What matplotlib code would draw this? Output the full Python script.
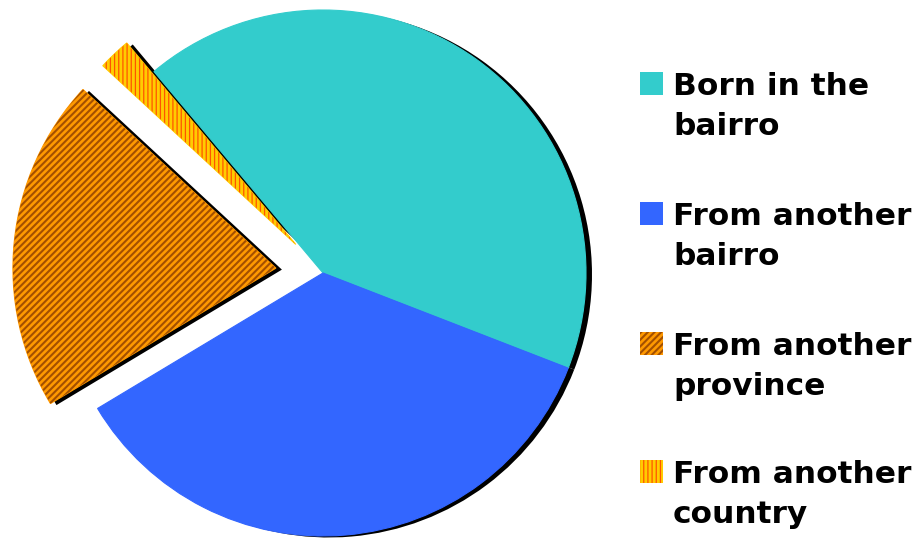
import matplotlib
matplotlib.use("Agg")
import matplotlib.pyplot as plt
from matplotlib.patches import Rectangle

labels = ["Born in the\nbairro", "From another\nbairro", "From another\nprovince", "From another\ncountry"]
values = [42.0, 35.5, 20.5, 2.0]
colors = ["#33CCCC", "#3366FF", "#FF9900", "#FFCC00"]
hatch_colors = ["#33CCCC", "#3366FF", "#A34F00", "#FF5500"]
hatches = [None, None, "/////", "||||"]
hatch_lws = [1.0, 1.0, 1.5, 0.9]
explode = [0.0, 0.0, 0.18, 0.15]

plt.rcParams["hatch.linewidth"] = 1.3

W, H = 915, 541
fig = plt.figure(figsize=(W / 100, H / 100), dpi=100)
ax = fig.add_axes([0, 0, 1, 1])

cx, cy, R = 323, 273, 263

# shadow
ax.pie(values, colors=["black"] * 4, explode=explode, startangle=130,
       counterclock=False, radius=1.0, center=(6 / R, -1.5 / R),
       wedgeprops=dict(linewidth=0))

# solid fill (edge in own colour hides antialias fringes)
base, _ = ax.pie(values, colors=colors, explode=explode, startangle=130,
                 counterclock=False, radius=1.0, center=(0, 0))
for w, c in zip(base, colors):
    w.set_edgecolor(c)
    w.set_linewidth(0.8)

# hatch overlay
over, _ = ax.pie(values, colors=colors, explode=explode, startangle=130,
                 counterclock=False, radius=1.0, center=(0, 0))
for w, hc, h, hl in zip(over, hatch_colors, hatches, hatch_lws):
    w.set_facecolor("none")
    w.set_edgecolor(hc)
    w.set_linewidth(0)
    if h:
        w.set_hatch(h)
        if hasattr(w, "set_hatch_linewidth"):
            w.set_hatch_linewidth(hl)
    else:
        w.set_visible(False)

ax.set_xlim(-cx / R, (W - cx) / R)
ax.set_ylim(-(H - cy) / R, cy / R)
ax.set_aspect("auto")
ax.axis("off")

# legend
sw_tops = [72, 202, 332, 460]
for lab, col, hc, h, hl, top in zip(labels, colors, hatch_colors, hatches, hatch_lws, sw_tops):
    r = Rectangle((640 / W, 1 - (top + 23) / H), 23 / W, 23 / H,
                  transform=fig.transFigure, facecolor=col, edgecolor=hc,
                  linewidth=0, hatch=h)
    if h and hasattr(r, "set_hatch_linewidth"):
        r.set_hatch_linewidth(hl)
    fig.patches.append(r)
    first, second = lab.split("\n")
    fig.text(673 / W, 1 - (top + 23) / H, first, fontsize=22.5,
             fontweight="bold", family="DejaVu Sans", va="baseline", ha="left")
    fig.text(673 / W, 1 - (top + 63) / H, second, fontsize=22.5,
             fontweight="bold", family="DejaVu Sans", va="baseline", ha="left")

fig.savefig("out.png", dpi=100)
